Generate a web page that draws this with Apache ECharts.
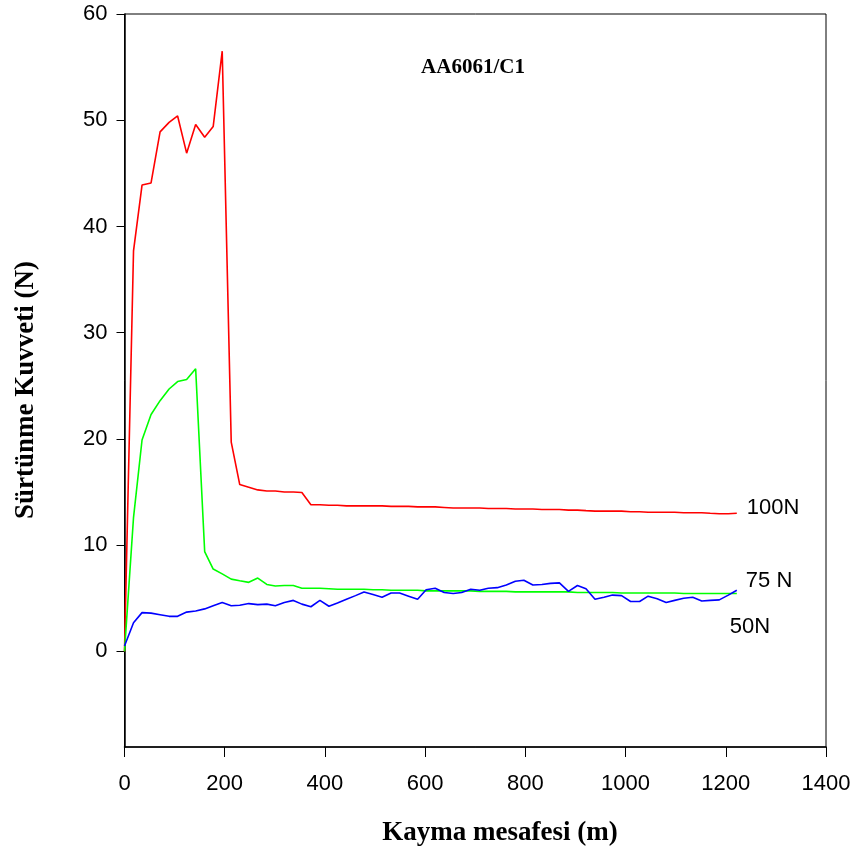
<!DOCTYPE html>
<html>
<head>
<meta charset="utf-8">
<script src="https://cdn.jsdelivr.net/npm/echarts@6/dist/echarts.min.js"></script>
<style>
  html, body { margin: 0; padding: 0; background: #fff; }
  #chart { width: 859px; height: 857px; }
</style>
</head>
<body>
<div id="chart"></div>
<script>
// Sliding distance (m) at each sample
const distance = [0, 18, 35, 53, 71, 89, 106, 124, 142, 160, 177, 195, 213, 230, 248, 266, 284, 301, 319, 337,
  354, 372, 390, 408, 425, 443, 461, 478, 496, 514, 532, 549, 567, 585, 602, 620, 638, 656, 673, 691,
  709, 726, 744, 762, 780, 797, 815, 833, 850, 868, 886, 904, 921, 939, 957, 974, 992, 1010, 1028, 1045,
  1063, 1081, 1098, 1116, 1134, 1152, 1169, 1187, 1205, 1222];

// Friction force (N) under 100 N load
const force100N = [0, 37.7, 43.9, 44.1, 48.9, 49.8, 50.4, 46.9, 49.6, 48.4, 49.4, 56.5, 19.7, 15.7, 15.45, 15.2, 15.1, 15.1, 15.0, 15.0,
  14.95, 13.8, 13.8, 13.75, 13.75, 13.7, 13.7, 13.7, 13.7, 13.7, 13.65, 13.65, 13.65, 13.6, 13.6, 13.6, 13.55, 13.5, 13.5, 13.5,
  13.5, 13.45, 13.45, 13.45, 13.4, 13.4, 13.4, 13.35, 13.35, 13.35, 13.3, 13.3, 13.25, 13.2, 13.2, 13.2, 13.2, 13.15, 13.15, 13.1,
  13.1, 13.1, 13.1, 13.05, 13.05, 13.05, 13.0, 12.95, 12.95, 13.0];

// Friction force (N) under 75 N load
const force75N = [0, 12.6, 19.9, 22.3, 23.6, 24.7, 25.4, 25.6, 26.6, 9.4, 7.75, 7.3, 6.8, 6.65, 6.5, 6.9, 6.3, 6.15, 6.2, 6.2,
  5.95, 5.95, 5.95, 5.9, 5.85, 5.85, 5.85, 5.85, 5.8, 5.8, 5.75, 5.75, 5.75, 5.75, 5.7, 5.7, 5.7, 5.7, 5.7, 5.7,
  5.65, 5.65, 5.65, 5.65, 5.6, 5.6, 5.6, 5.6, 5.6, 5.6, 5.6, 5.55, 5.55, 5.55, 5.55, 5.55, 5.5, 5.5, 5.5, 5.5,
  5.5, 5.5, 5.5, 5.45, 5.45, 5.45, 5.45, 5.45, 5.45, 5.45];

// Friction force (N) under 50 N load
const force50N = [0.5, 2.7, 3.65, 3.6, 3.45, 3.3, 3.3, 3.7, 3.8, 4.0, 4.3, 4.6, 4.3, 4.35, 4.5, 4.4, 4.45, 4.3, 4.6, 4.8,
  4.45, 4.2, 4.8, 4.25, 4.55, 4.9, 5.25, 5.6, 5.35, 5.1, 5.5, 5.5, 5.2, 4.9, 5.8, 5.95, 5.55, 5.45, 5.55, 5.85,
  5.75, 5.95, 6.0, 6.25, 6.6, 6.7, 6.25, 6.3, 6.4, 6.45, 5.65, 6.2, 5.9, 4.9, 5.1, 5.3, 5.25, 4.7, 4.7, 5.2,
  4.95, 4.6, 4.8, 5.0, 5.1, 4.75, 4.8, 4.85, 5.3, 5.75];

const yTicks = [0, 10, 20, 30, 40, 50, 60];
const seriesNames = ['100N', '75 N', '50N'];

const pair = (ys) => distance.map((x, i) => [x, ys[i]]);

const chart = echarts.init(document.getElementById('chart'), null, { renderer: 'canvas' });

const tickFont = { fontFamily: 'Liberation Sans, Arial, sans-serif', fontSize: 22, color: '#000' };
const serifBold = (size) => 'bold ' + size + 'px "Liberation Serif", "Times New Roman", serif';

function lineSeries(name, ys, color, offset) {
  return {
    name: name,
    type: 'line',
    data: pair(ys),
    symbol: 'none',
    lineStyle: { color: color, width: 1.6 },
    itemStyle: { color: color },
    endLabel: {
      show: true,
      formatter: name,
      distance: 0,
      offset: offset,
      fontFamily: 'Liberation Sans, Arial, sans-serif',
      fontSize: 22,
      color: '#000'
    }
  };
}

chart.setOption({
  animation: false,
  backgroundColor: '#fff',
  grid: {
    left: 124.5, right: 33, top: 14, bottom: 110,
    show: true, borderColor: '#000', borderWidth: 1
  },
  xAxis: {
    type: 'value', min: 0, max: 1400, interval: 200,
    axisLine: { show: true, onZero: false, lineStyle: { color: '#000', width: 1.5 } },
    axisTick: { show: true, inside: false, length: 10, lineStyle: { color: '#000' } },
    axisLabel: Object.assign({ margin: 26, formatter: (v) => String(v) }, tickFont),
    splitLine: { show: false }
  },
  yAxis: {
    type: 'value', min: -9, max: 60,
    axisLine: { show: true, onZero: false, lineStyle: { color: '#000', width: 1.5 } },
    axisTick: { show: true, inside: false, length: 8, customValues: yTicks, lineStyle: { color: '#000' } },
    axisLabel: Object.assign({ margin: 17, customValues: yTicks }, tickFont),
    splitLine: { show: false }
  },
  graphic: [
    {
      type: 'text',
      style: {
        text: 'AA6061/C1', x: 473, y: 68,
        textAlign: 'center', textVerticalAlign: 'middle',
        font: serifBold(21), fill: '#000'
      }
    },
    {
      type: 'text',
      style: {
        text: 'Kayma mesafesi (m)', x: 500, y: 833,
        textAlign: 'center', textVerticalAlign: 'middle',
        font: serifBold(27), fill: '#000'
      }
    },
    {
      type: 'text',
      x: 26, y: 390, rotation: Math.PI / 2,
      style: {
        text: 'Sürtünme Kuvveti (N)', x: 0, y: 0,
        textAlign: 'center', textVerticalAlign: 'middle',
        font: serifBold(27), fill: '#000'
      }
    }
  ],
  series: [
    lineSeries(seriesNames[0], force100N, '#ff0000', [10, -5]),
    lineSeries(seriesNames[1], force75N, '#00ff00', [9, -13]),
    lineSeries(seriesNames[2], force50N, '#0000ff', [-7, 37])
  ]
});
</script>
</body>
</html>
